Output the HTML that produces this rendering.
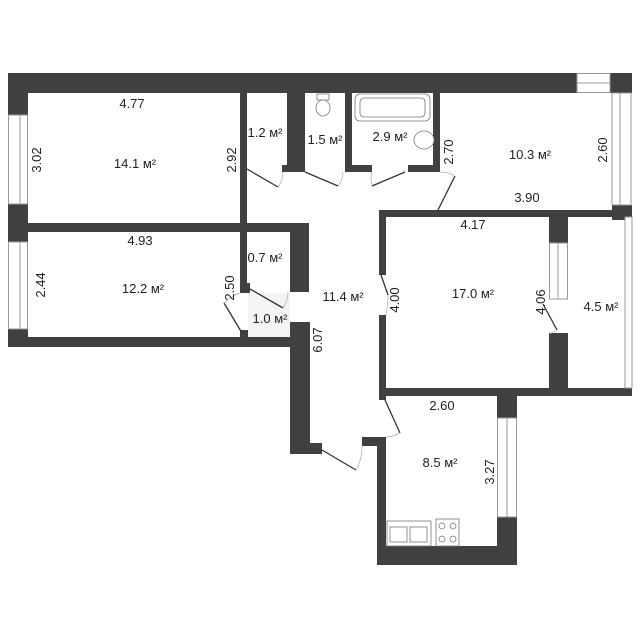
<!DOCTYPE html>
<html><head><meta charset="utf-8"><style>
html,body{margin:0;padding:0;background:#fff;width:640px;height:640px;overflow:hidden}
text{font-family:"Liberation Sans",sans-serif;font-size:13px;fill:#222}
</style></head><body>
<svg width="640" height="640" viewBox="0 0 640 640" xmlns="http://www.w3.org/2000/svg">
<g fill="#404040">
<rect x="8" y="73" width="569" height="20"/>
<rect x="610" y="73" width="22" height="20"/>
<rect x="8" y="73" width="20" height="42"/>
<rect x="8" y="204" width="20" height="38"/>
<rect x="8" y="329" width="20" height="18"/>
<rect x="8" y="337" width="301" height="10"/>
<rect x="27" y="223" width="282" height="9"/>
<rect x="240" y="93" width="7" height="197"/>
<rect x="240" y="283" width="10" height="10"/>
<rect x="240" y="330" width="8" height="10"/>
<rect x="290" y="223" width="19" height="69"/>
<rect x="290" y="322" width="20" height="132"/>
<rect x="290" y="443" width="32" height="11"/>
<rect x="362" y="437" width="24" height="9"/>
<rect x="287" y="93" width="18" height="79"/>
<rect x="282" y="165" width="23" height="7"/>
<rect x="345" y="93" width="7" height="79"/>
<rect x="345" y="165" width="27" height="7"/>
<rect x="408" y="165" width="32" height="7"/>
<rect x="433" y="93" width="7" height="79"/>
<rect x="612" y="205" width="20" height="15"/>
<rect x="379" y="210" width="253" height="7"/>
<rect x="379" y="210" width="7" height="65"/>
<rect x="379" y="315" width="7" height="85"/>
<rect x="549" y="217" width="19" height="26"/>
<rect x="549" y="333" width="19" height="58"/>
<rect x="379" y="388" width="253" height="8"/>
<rect x="377" y="437" width="9" height="128"/>
<rect x="377" y="546" width="140" height="19"/>
<rect x="497" y="388" width="20" height="30"/>
<rect x="497" y="517" width="20" height="48"/>
</g>
<g fill="#fff" stroke="#999" stroke-width="1">
<rect x="8.5" y="115" width="19" height="89"/>
<rect x="8.5" y="242" width="19" height="87"/>
<rect x="577" y="73.5" width="33" height="19"/>
<rect x="612" y="93" width="19" height="112"/>
<rect x="549.5" y="243" width="18" height="56"/>
<rect x="497.5" y="418" width="19" height="99"/>
<rect x="625" y="217" width="7" height="171"/>
</g>
<g stroke="#999" stroke-width="1">
<line x1="20" y1="115" x2="20" y2="204"/><line x1="20" y1="242" x2="20" y2="329"/>
<line x1="577" y1="83" x2="610" y2="83"/><line x1="620" y1="93" x2="620" y2="205"/>
<line x1="558" y1="243" x2="558" y2="299"/><line x1="507" y1="418" x2="507" y2="517"/>
</g>
<rect x="248" y="293" width="42" height="44" fill="#f4f4f4"/>
<g stroke="#333" stroke-width="1.3" fill="none">
<line x1="247" y1="169" x2="278" y2="187"/>
<line x1="305" y1="172" x2="338" y2="186"/>
<line x1="372" y1="186" x2="405" y2="172"/>
<line x1="437" y1="212" x2="455" y2="176"/>
<line x1="250" y1="289" x2="283" y2="308"/>
<line x1="224" y1="303" x2="242" y2="333"/>
<line x1="381" y1="275" x2="388" y2="295"/>
<line x1="543" y1="304" x2="557" y2="330"/>
<line x1="385" y1="400" x2="400" y2="433"/>
<line x1="322" y1="450" x2="356" y2="470"/>
</g>
<g stroke="#aaa" stroke-width="0.7" fill="none">
<path d="M278 187 Q283 180 283 172"/><path d="M338 186 Q343 180 343 172"/>
<path d="M372 186 Q370 178 372 172"/><path d="M455 176 Q448 172 440 172"/>
<path d="M283 308 Q288 300 288 292"/><path d="M224 303 Q232 295 241 293"/>
<path d="M388 295 Q388 305 386 315"/><path d="M557 330 Q552 334 549 333"/>
<path d="M400 433 Q392 437 386 437"/><path d="M356 470 Q362 460 362 446"/>
</g>
<g stroke="#777" stroke-width="0.8" fill="#fff">
<rect x="355" y="94" width="75" height="27" rx="5"/>
<rect x="360" y="98" width="65" height="19" rx="4"/>
<ellipse cx="424" cy="140" rx="10" ry="9"/>
<rect x="317" y="94" width="12" height="6"/>
<ellipse cx="323" cy="108" rx="7" ry="8"/>
<rect x="387" y="521" width="44" height="25"/>
<rect x="390" y="527" width="17" height="15"/><rect x="410" y="527" width="17" height="15"/>
<rect x="436" y="519" width="23" height="27"/>
<circle cx="442" cy="526" r="3"/><circle cx="453" cy="526" r="3"/>
<circle cx="442" cy="539" r="3"/><circle cx="453" cy="539" r="3"/>
</g>
<g text-anchor="middle">
<text x="132" y="108">4.77</text>
<text x="135" y="168">14.1 м²</text>
<text x="265" y="137">1.2 м²</text>
<text x="325" y="144">1.5 м²</text>
<text x="390" y="141">2.9 м²</text>
<text x="530" y="159">10.3 м²</text>
<text x="527" y="202">3.90</text>
<text x="473" y="229">4.17</text>
<text x="140" y="245">4.93</text>
<text x="265" y="262">0.7 м²</text>
<text x="143" y="293">12.2 м²</text>
<text x="343" y="301">11.4 м²</text>
<text x="270" y="323">1.0 м²</text>
<text x="473" y="298">17.0 м²</text>
<text x="601" y="311">4.5 м²</text>
<text x="442" y="410">2.60</text>
<text x="440" y="467">8.5 м²</text>
<text transform="translate(41,160) rotate(-90)">3.02</text>
<text transform="translate(236,160) rotate(-90)">2.92</text>
<text transform="translate(453,152) rotate(-90)">2.70</text>
<text transform="translate(607,150) rotate(-90)">2.60</text>
<text transform="translate(45,285) rotate(-90)">2.44</text>
<text transform="translate(234,288) rotate(-90)">2.50</text>
<text transform="translate(399,300) rotate(-90)">4.00</text>
<text transform="translate(545,302) rotate(-90)">4.06</text>
<text transform="translate(322,340) rotate(-90)">6.07</text>
<text transform="translate(494,472) rotate(-90)">3.27</text>
</g>
</svg>
</body></html>
